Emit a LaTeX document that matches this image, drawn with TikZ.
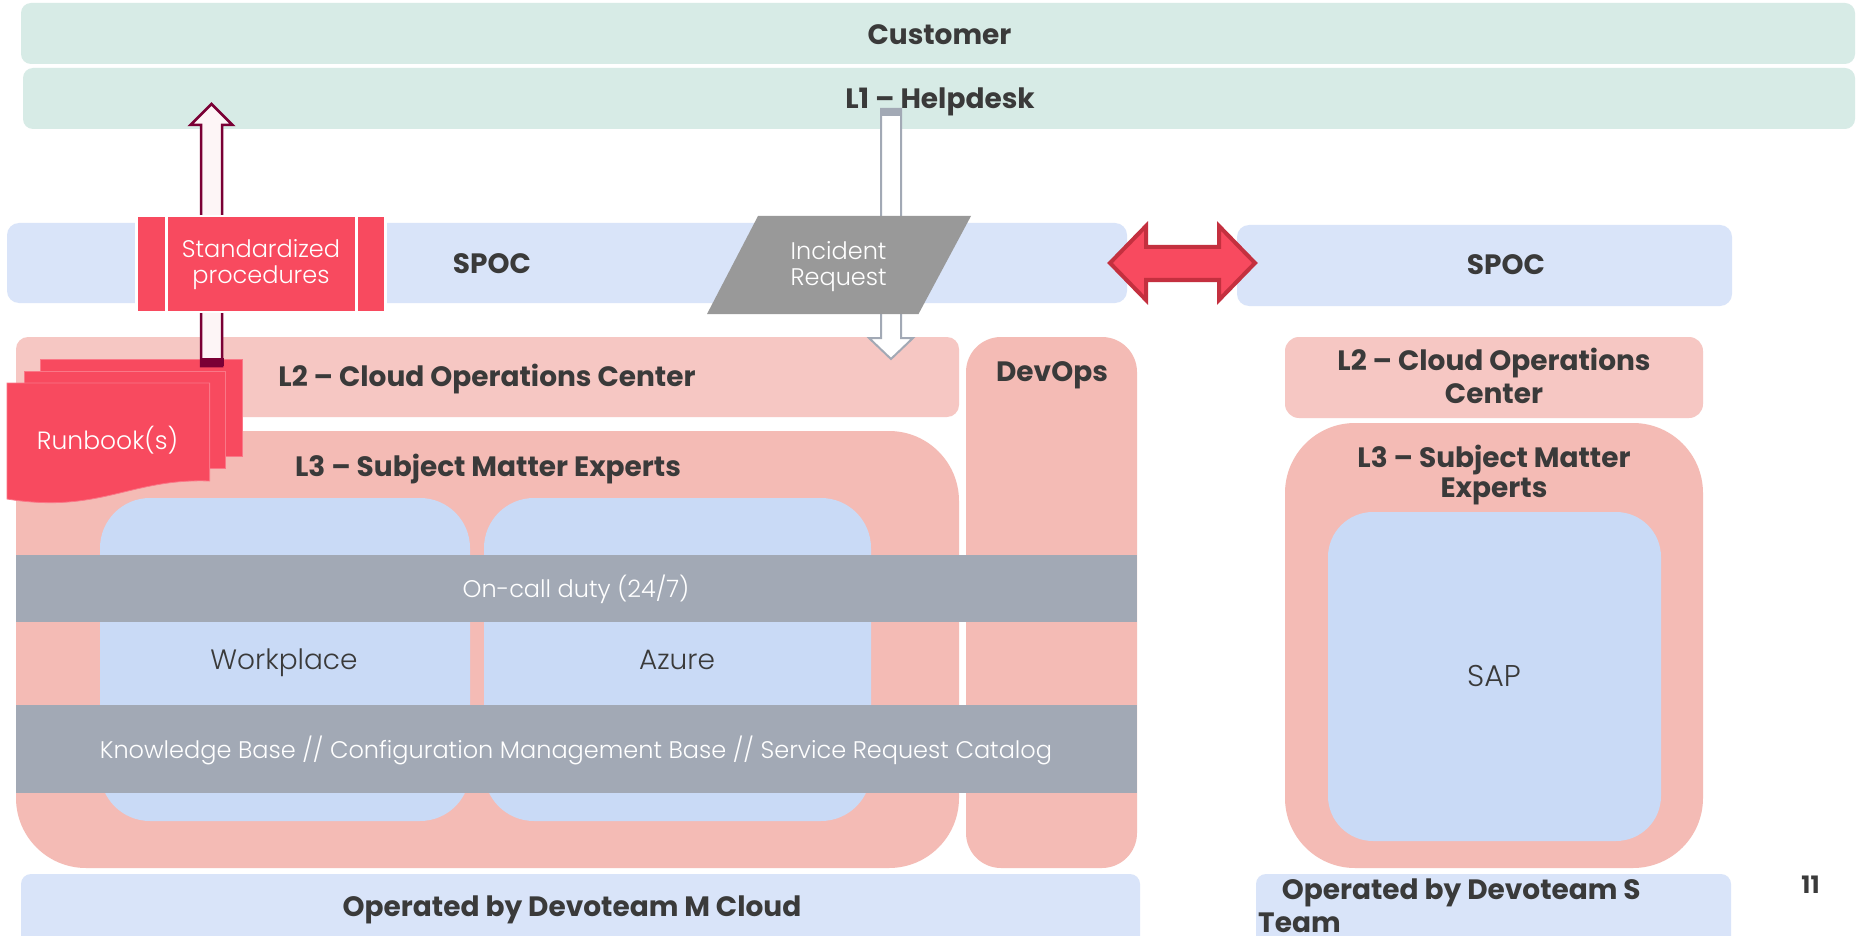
\documentclass[tikz,border=0pt]{standalone}
\usepackage{fontspec}
\setmainfont{Poppins}[BoldFont={Poppins Bold}]
\newfontfamily\lightfont{Poppins Light}
\definecolor{cTeal}{HTML}{D7EBE6}
\definecolor{cSpoc}{HTML}{D9E4F9}
\definecolor{cLtwo}{HTML}{F6C7C3}
\definecolor{cLthree}{HTML}{F4BBB5}
\definecolor{cBlue}{HTML}{C9DAF6}
\definecolor{cGray}{HTML}{A2A9B5}
\definecolor{cRed}{HTML}{F84A5F}
\definecolor{cDRed}{HTML}{C4303F}
\definecolor{cMaroon}{HTML}{7A0035}
\definecolor{cPinkW}{HTML}{FDF5F6}
\definecolor{cInc}{HTML}{999999}
\definecolor{cDark}{HTML}{3A3A3A}
\begin{document}
\begin{tikzpicture}[x=1pt,y=-1pt,
  boldtxt/.style={font=\bfseries\fontsize{28}{32}\selectfont, text=cDark, inner sep=0, anchor=base},
  lighttxt/.style={font=\lightfont\fontsize{24}{28}\selectfont, text=white, inner sep=0, anchor=base},
  darklight/.style={font=\lightfont\fontsize{28}{32}\selectfont, text=cDark, inner sep=0, anchor=base},
  page/.style={fill=cRed, draw=cRed!75!white, line width=0.8},
]
\clip (0,0) rectangle (1856,936);
\fill[white] (0,0) rectangle (1856,936);
% top bars
\fill[cTeal, rounded corners=10] (21,3) rectangle (1855,64);
\fill[cTeal, rounded corners=10] (23,68) rectangle (1855,129);
% SPOC bars
\fill[cSpoc, rounded corners=12] (7,223) rectangle (1127,303);
\fill[cSpoc, rounded corners=12] (1237,225) rectangle (1732,306);
% M cloud side
\fill[cLtwo, rounded corners=12] (16,337) rectangle (959,417);
\fill[cLthree, rounded corners=70] (16,431) rectangle (959,868);
\fill[cLthree, rounded corners=35] (966,337) rectangle (1137,868);
\fill[cBlue, rounded corners=50] (100,498) rectangle (470,821);
\fill[cBlue, rounded corners=50] (484,498) rectangle (871,821);
\fill[cGray] (16,555) rectangle (1137,622);
\fill[cGray] (16,705) rectangle (1137,793);
% S team side
\fill[cLtwo, rounded corners=14] (1285,337) rectangle (1703,418);
\fill[cLthree, rounded corners=70] (1285,423) rectangle (1703,868);
\fill[cBlue, rounded corners=45] (1328,512) rectangle (1661,841);
% bottom bars
\fill[cSpoc, rounded corners=10] (21,874) rectangle (1140,950);
\fill[cSpoc, rounded corners=10] (1256,874) rectangle (1731,950);
% runbooks
\path[page] (40,359) rectangle (242,456);
\path[page] (24,371) rectangle (225,468);
\path[page] (7,383) -- (209.6,383) -- (209.6,481) .. controls (130,478) and (100,514) .. (7,499) -- cycle;
\node[lighttxt, font=\lightfont\fontsize{25}{28}\selectfont] (rb) at (107.5,449.3) {Runbook(s)};
% up arrow
\coordinate (upbot) at (211.5,366);
\coordinate (uptip) at (211.5,104);
\draw[fill=cPinkW, draw=cMaroon, line width=2.5] ([xshift=-10.5]upbot) -- ([xshift=-10.5]uptip |- 0,125) -- ([xshift=-21]uptip |- 0,125) -- (uptip) -- ([xshift=21]uptip |- 0,125) -- ([xshift=10.5]uptip |- 0,125) -- ([xshift=10.5]upbot) -- cycle;
\fill[cMaroon] (199.5,358) rectangle (223.5,366);
% standardized procedures box
\node[fill=cRed, draw=white, line width=2.5, minimum width=249, minimum height=96, inner sep=0] (stdbox) at (261,264) {};
\draw[white, line width=3] ([xshift=31.5]stdbox.north west) -- ([xshift=31.5]stdbox.south west);
\draw[white, line width=3] ([xshift=-30]stdbox.north east) -- ([xshift=-30]stdbox.south east);
\node[lighttxt] (std1) at (261,257.3) {Standardized};
\node[lighttxt] (std2) at (261,283.3) {procedures};
% down arrow
\coordinate (dntop) at (891,109);
\coordinate (dntip) at (891,359);
\draw[fill=white, draw=cGray, line width=2] ([xshift=-10]dntop) -- ([xshift=-10]dntip |- 0,338) -- ([xshift=-22]dntip |- 0,338) -- (dntip) -- ([xshift=22]dntip |- 0,338) -- ([xshift=10]dntip |- 0,338) -- ([xshift=10]dntop) -- cycle;
\fill[cGray] (880,108) rectangle (902,116);
% incident request
\fill[cInc] (758,216) -- (971,216) -- (918.5,314) -- (707,314) -- cycle;
\node[lighttxt] (inc1) at (838.6,260) {Incident};
\node[lighttxt] (inc2) at (838.6,285) {Request};
% double arrow
\draw[fill=cRed, draw=cDRed, line width=4, line join=miter] (1110,263) -- (1146,226) -- (1146,247) -- (1219,247) -- (1219,226) -- (1255,263) -- (1219,300) -- (1219,280) -- (1146,280) -- (1146,300) -- cycle;
% texts
\node[boldtxt] (cust) at (939.5,44.3) {Customer};
\node[boldtxt] (l1) at (940,108.3) {L1 – Helpdesk};
\node[boldtxt] (spoc1) at (492,273.3) {SPOC};
\node[boldtxt] (spoc2) at (1506,275) {SPOC};
\node[boldtxt] (l2) at (487,386.7) {L2 – Cloud Operations Center};
\node[boldtxt] (l3) at (488,476) {L3 – Subject Matter Experts};
\node[boldtxt] (devops) at (1052,381.7) {DevOps};
\node[boldtxt] (rl2a) at (1494,370.7) {L2 – Cloud Operations};
\node[boldtxt] (rl2b) at (1494,403.3) {Center};
\node[boldtxt] (rl3a) at (1494,467.3) {L3 – Subject Matter};
\node[boldtxt] (rl3b) at (1494,497.3) {Experts};
\node[lighttxt] (oncall) at (576,597.3) {On-call duty (24/7)};
\node[lighttxt] (kb) at (576,758.3) {Knowledge Base // Configuration Management Base // Service Request Catalog};
\node[darklight] (wp) at (284,669.3) {Workplace};
\node[darklight] (az) at (677,669.3) {Azure};
\node[darklight, font=\lightfont\fontsize{30}{34}\selectfont] (sap) at (1494,686.7) {SAP};
\node[boldtxt] (opm) at (572,916) {Operated by Devoteam M Cloud};
\node[boldtxt, anchor=base west] (ops1) at (1281.6,899.3) {Operated by Devoteam S};
\node[boldtxt, anchor=base west] (ops2) at (1258,932.7) {Team};
\node[boldtxt, font=\bfseries\fontsize{24}{28}\selectfont] (pg) at (1810.5,893.3) {11};
\end{tikzpicture}
\end{document}
